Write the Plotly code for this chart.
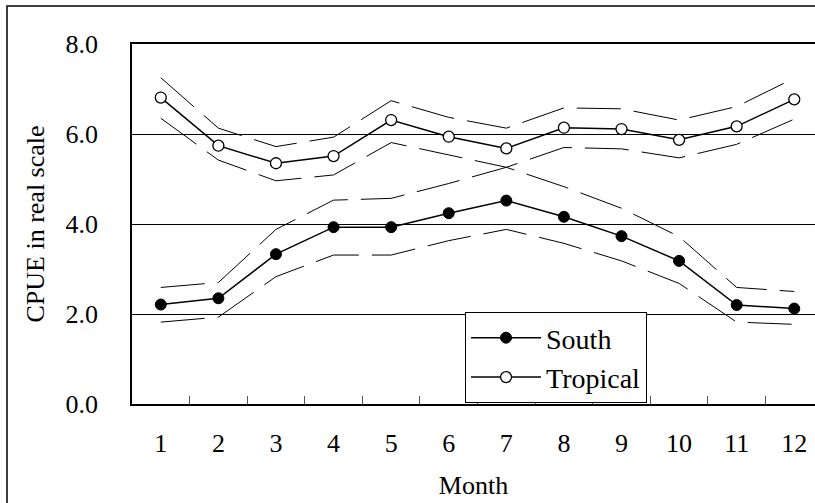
import plotly.graph_objects as go

months = list(range(1, 13))
month_labels = [str(m) for m in months]
y_ticks = [0, 2, 4, 6, 8]
y_tick_labels = ["0.0", "2.0", "4.0", "6.0", "8.0"]

south = [2.21, 2.35, 3.33, 3.93, 3.93, 4.24, 4.52, 4.16, 3.73, 3.18, 2.20, 2.12]
south_upper = [2.59, 2.70, 3.88, 4.53, 4.57, 4.90, 5.26, 4.83, 4.35, 3.72, 2.59, 2.50]
south_lower = [1.82, 1.93, 2.83, 3.31, 3.31, 3.63, 3.88, 3.57, 3.18, 2.68, 1.82, 1.77]

tropical = [6.81, 5.74, 5.35, 5.51, 6.31, 5.94, 5.68, 6.14, 6.11, 5.87, 6.17, 6.77]
tropical_upper = [7.25, 6.13, 5.72, 5.93, 6.74, 6.37, 6.13, 6.58, 6.56, 6.31, 6.61, 7.24]
tropical_lower = [6.35, 5.42, 4.96, 5.09, 5.81, 5.53, 5.26, 5.70, 5.67, 5.47, 5.77, 6.33]

FONT = "Liberation Serif"
fig = go.Figure()

band_line = dict(color="black", width=1, dash="44px,13px")
for band in [south_upper, south_lower, tropical_upper, tropical_lower]:
    fig.add_trace(go.Scatter(x=months, y=band, mode="lines", line=band_line,
                             showlegend=False, hoverinfo="skip"))

fig.add_trace(go.Scatter(
    x=months, y=south, mode="lines+markers", name="South",
    line=dict(color="black", width=1.5),
    marker=dict(symbol="circle", size=11, color="black", line=dict(color="black", width=1)),
))
fig.add_trace(go.Scatter(
    x=months, y=tropical, mode="lines+markers", name="Tropical",
    line=dict(color="black", width=1.5),
    marker=dict(symbol="circle", size=11, color="white", line=dict(color="black", width=1.3)),
))

# outer chart frame
fig.add_shape(type="rect", xref="paper", yref="paper",
              x0=-0.183, x1=1.2, y0=-0.4, y1=1.1056,
              line=dict(color="black", width=1.5), layer="below")

fig.update_layout(
    width=815, height=503,
    margin=dict(l=132, r=0, t=44, b=99),
    paper_bgcolor="white", plot_bgcolor="white",
    font=dict(family=FONT, size=26, color="black"),
    showlegend=True,
    legend=dict(
        x=0.4876, y=0.2556, xanchor="left", yanchor="top",
        bgcolor="white", bordercolor="black", borderwidth=1,
        font=dict(family=FONT, size=28, color="black"),
        itemwidth=70, tracegroupgap=0,
    ),
    xaxis=dict(
        range=[0.5, 12.36],
        tickmode="array", tickvals=months, ticktext=month_labels,
        ticks="", showgrid=False, zeroline=False,
        showline=True, linecolor="black", linewidth=1.5, mirror=True,
        ticklabelstandoff=15,
        minor=dict(tickmode="array", tickvals=[m + 0.5 for m in months[:-1]],
                   ticks="inside", ticklen=8, tickcolor="#555", tickwidth=1, showgrid=False),
        title=dict(text="Month", standoff=19, font=dict(family=FONT, size=26)),
        fixedrange=True,
    ),
    yaxis=dict(
        range=[0, 8],
        tickmode="array", tickvals=y_ticks, ticktext=y_tick_labels,
        ticks="", showgrid=True, gridcolor="black", gridwidth=1, zeroline=False,
        showline=True, linecolor="black", linewidth=1.5,
        ticklabelstandoff=27,
        title=dict(text="CPUE in real scale", standoff=13, font=dict(family=FONT, size=26)),
        fixedrange=True,
    ),
)

fig.write_html("out.html", config={"displayModeBar": False},
               post_script="document.body.style.margin='0';document.body.style.overflow='hidden';")
